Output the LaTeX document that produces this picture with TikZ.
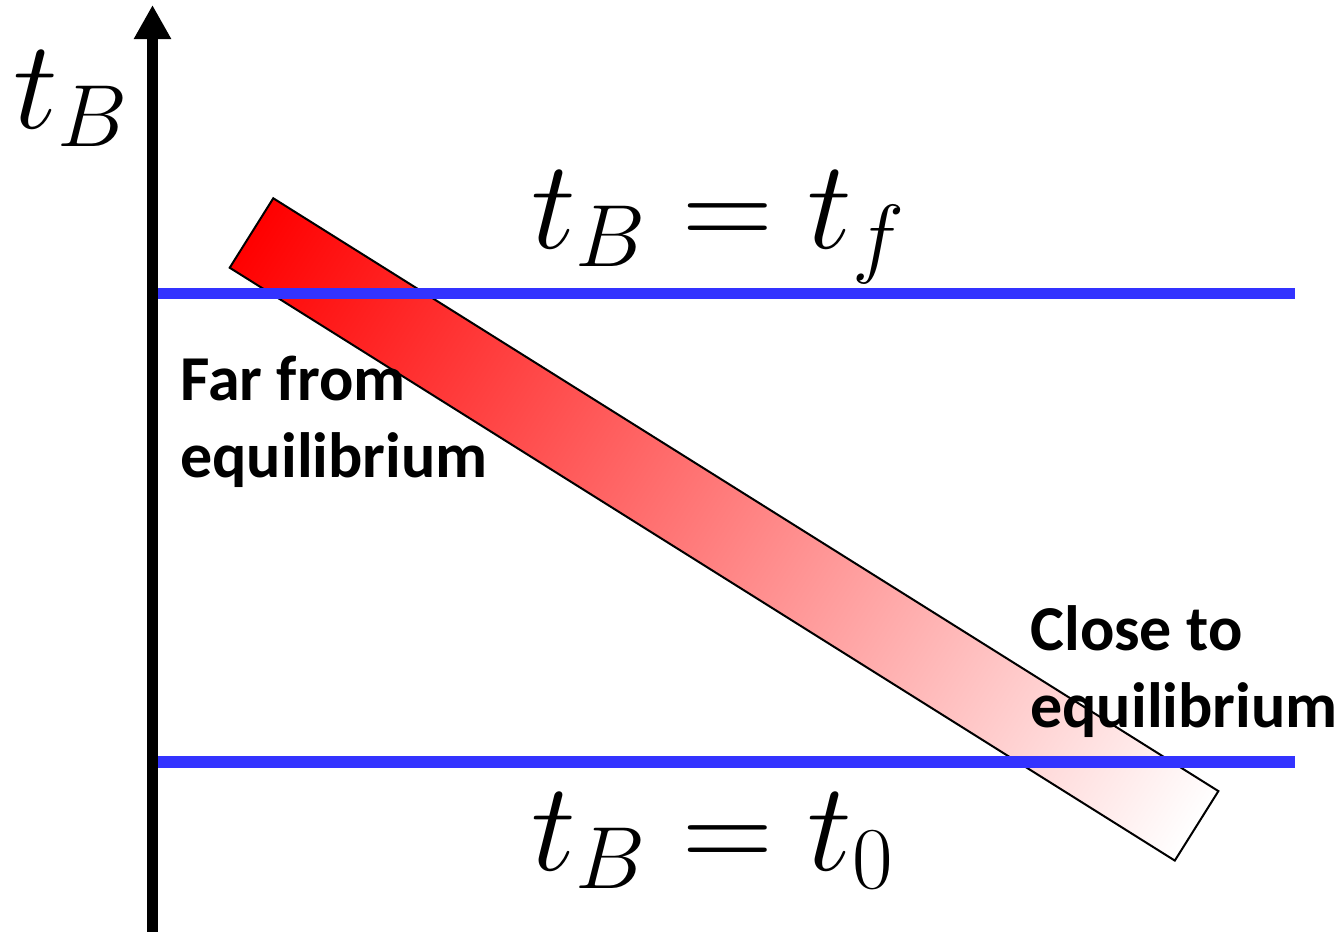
\RequirePackage{fix-cm}
\documentclass[tikz,border=0pt]{standalone}
\usepackage{fontspec}
\newfontfamily\notefont{Carlito}
\usetikzlibrary{arrows.meta}
\definecolor{levelblue}{RGB}{51,51,255}
\definecolor{hotred}{RGB}{255,0,0}

\tikzset{
  level line/.style={levelblue,line width=5.6pt},
  note/.style={font=\notefont\bfseries\fontsize{32}{38.5}\selectfont,align=left,anchor=base west,inner sep=0pt},
  eqlabel/.style={font=\fontsize{63}{70}\selectfont,anchor=base west,inner sep=0pt}
}

\begin{document}
\begin{tikzpicture}[x=0.5pt,y=-0.5pt]
  \useasboundingbox (0,0) rectangle (1340,932);
  % relaxation bar, red to white
  \begin{scope}[transform canvas={shift={(251.5,233)},rotate=-32.1}]
    \draw[black,line width=1pt,left color=hotred,right color=white] (0,-41) rectangle (1115.7,41);
  \end{scope}
  % levels
  \coordinate (topL) at (158,293.5);
  \coordinate (topR) at (1295,293.5);
  \coordinate (botL) at (158,762);
  \coordinate (botR) at (1295,762);
  \draw[level line] (topL)--(topR);
  \draw[level line] (botL)--(botR);
  % time axis
  \coordinate (axisbot) at (152.5,932);
  \coordinate (axistop) at (152.5,5);
  \draw[line width=5.8pt,-{Triangle[width=17.5pt,length=17pt]}] (axisbot)--(axistop);
  \node[eqlabel] (axislabel) at (13,128) {$t_B$};
  \node[eqlabel] (final) at (531,248) {$t_B = t_f$};
  \node[eqlabel] (initial) at (531,870) {$t_B = t_0$};
  \node[note] (far) at (180,477) {Far from\\equilibrium};
  \node[note] (close) at (1030,727) {Close to\\equilibrium};
\end{tikzpicture}
\end{document}
